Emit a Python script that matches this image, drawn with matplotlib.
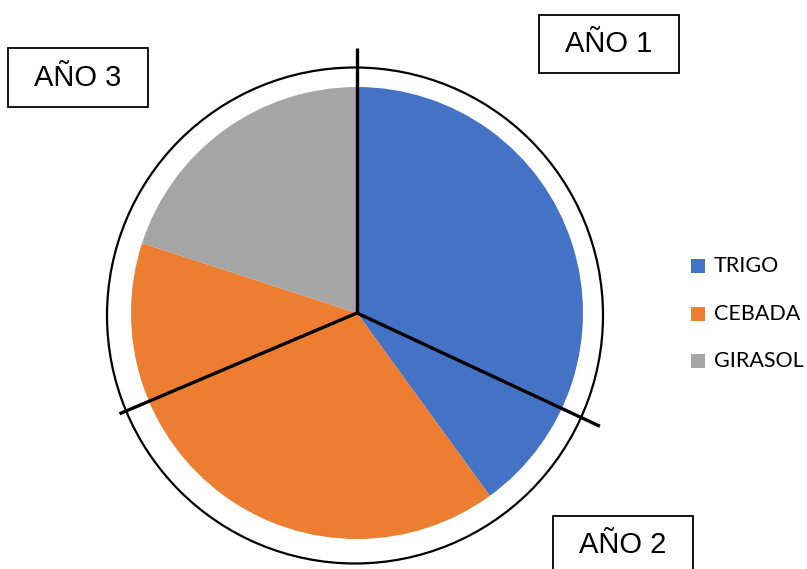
import numpy as np
import matplotlib
matplotlib.use("Agg")
import matplotlib.pyplot as plt
from matplotlib.patches import Circle, Rectangle

# Datos (porcentaje de superficie por cultivo)
cultivos = ['TRIGO', 'CEBADA', 'GIRASOL']
valores = [40, 40, 20]
colores = ['#4472C4', '#ED7D31', '#A5A5A5']

# Etiquetas de los años y ángulos de las divisiones (grados, horario desde arriba)
anios = ['AÑO 1', 'AÑO 2', 'AÑO 3']
ang_div = [0, 115, 247]
largo_div = [265, 268, 258]

W, H = 807, 569


def py(y):
    # pasar coordenada y de píxel (desde arriba) a coordenada del eje
    return H - y


fig = plt.figure(figsize=(W / 100, H / 100), dpi=100)
ax = fig.add_axes([0, 0, 1, 1])

cx, cy = 357, 313
wedges, _ = ax.pie(valores, colors=colores, startangle=90, counterclock=False,
                   center=(cx, py(cy)), radius=226)

# circulo exterior
ax.add_patch(Circle((355, py(315.5)), 248, fill=False, lw=1.6, color='black'))

# lineas divisorias de los años
for a, L in zip(ang_div, largo_div):
    t = np.radians(a)
    ax.plot([cx, cx + L * np.sin(t)], [py(cy), py(cy - L * np.cos(t))],
            color='black', lw=2.4, solid_capstyle='butt')

# cajas de los años
cajas = {'AÑO 1': (539, 15, 140, 58), 'AÑO 2': (553, 516, 140, 58),
         'AÑO 3': (8, 48, 140, 59)}
for nombre in anios:
    x0, y0, w, h = cajas[nombre]
    ax.add_patch(Rectangle((x0, py(y0 + h)), w, h, fill=False, lw=1.3,
                           edgecolor='black', clip_on=False))
    ax.text(x0 + w / 2, py(y0 + h / 2), nombre, ha='center', va='center',
            fontsize=21, family='Liberation Sans')

# leyenda
for i, (w, nombre) in enumerate(zip(wedges, cultivos)):
    yc = 266 + i * 47.5
    ax.add_patch(Rectangle((691, py(yc + 7)), 14, 14,
                           facecolor=w.get_facecolor(), edgecolor='none'))
    ax.text(714, py(yc), nombre, ha='left', va='center', fontsize=15.5,
            family='Lato')

ax.set_xlim(0, W)
ax.set_ylim(0, H)
ax.set_aspect('equal')
ax.axis('off')
fig.savefig('out.png', dpi=100)
